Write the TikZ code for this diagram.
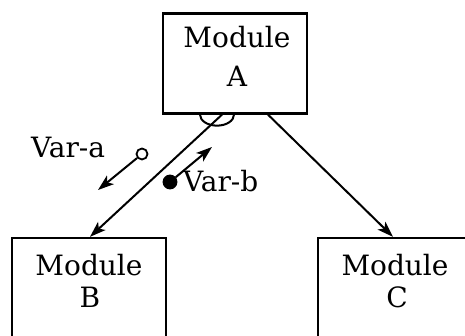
\documentclass[tikz,border=0pt]{standalone}
\usepackage{fontspec}
\setmainfont{DejaVu Serif}
\usetikzlibrary{arrows.meta}
\begin{document}
\begin{tikzpicture}[x=1pt,y=-1pt,
  module/.style={draw,line width=2.3pt,inner sep=0pt},
  lbl/.style={inner sep=0pt,anchor=base,font=\fontsize{28}{33}\selectfont},
  conn/.style={line width=2pt,-{Stealth[length=16pt,width=11pt,inset=4pt]}},
  flag/.style={circle,draw,line width=1.8pt,inner sep=0pt,minimum size=11pt}]
\useasboundingbox (0,0) rectangle (465,336);
\clip (0,0) rectangle (465,336);

% modules
\node[module,minimum width=144pt,minimum height=100pt] (A) at (235,63.5) {};
\node[module,minimum width=154pt,minimum height=104pt] (B) at (89,290) {};
\node[module,minimum width=157pt,minimum height=104pt] (C) at (396.5,290) {};

\node[lbl] (tA1) at (237,48) {Module};
\node[lbl] (tA2) at (237,87) {A};
\node[lbl] (tB1) at (89,276) {Module};
\node[lbl] (tB2) at (90,307) {B};
\node[lbl] (tC1) at (395,276) {Module};
\node[lbl] (tC2) at (397,307) {C};

% calls
\draw[conn] ([xshift=-13pt]A.south) -- ([xshift=1pt]B.north);
\draw[conn] ([xshift=33pt]A.south) -- ([xshift=-3.5pt]C.north);

% loop arc under the calling module
\draw[line width=2pt] ([xshift=-35pt]A.south) arc[start angle=180,end angle=360,x radius=17pt,y radius=11pt];

% couples
\node[flag,fill=white] (va) at (142,154) {};
\coordinate (vaend) at (98,190);
\draw[conn] (va) -- (vaend);
\node[lbl,anchor=base west] (la) at (31,158) {Var-a};

\node[flag,fill=black,minimum size=13pt] (vb) at (170,182) {};
\coordinate (vbend) at (212,147);
\draw[conn] (vb) -- (vbend);
\node[lbl,anchor=base west] (lb) at (183,192) {Var-b};
\end{tikzpicture}
\end{document}
